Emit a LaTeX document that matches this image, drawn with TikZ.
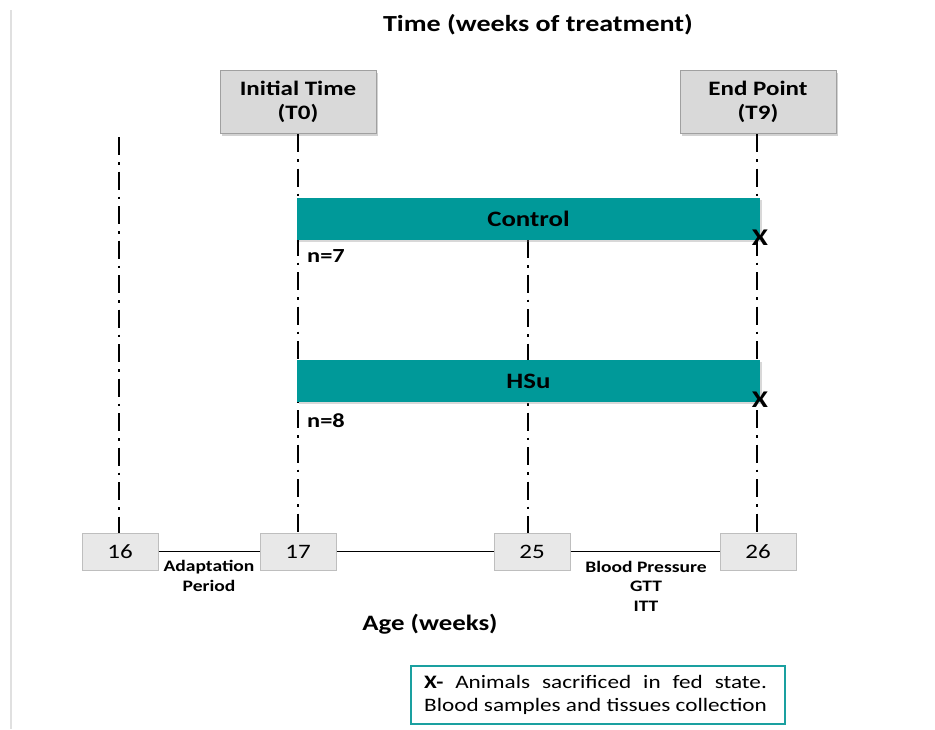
\documentclass[tikz,border=0pt]{standalone}
\usepackage{fontspec}
\setmainfont{Carlito}[FakeStretch=1.22]
\usetikzlibrary{shadows}
\definecolor{teal}{RGB}{0,153,153}
\definecolor{legteal}{RGB}{26,160,160}
\definecolor{boxfill}{RGB}{217,217,217}
\definecolor{boxline}{RGB}{160,160,160}
\definecolor{agefill}{RGB}{232,232,232}
\definecolor{ageline}{RGB}{190,190,190}
\newlength\legw
\tikzset{
  topbox/.style={draw=boxline, fill=boxfill, line width=1pt, minimum width=156pt, minimum height=63pt,
    inner sep=0pt, align=center, font=\fontsize{20.5}{24}\selectfont\bfseries,
    drop shadow={shadow xshift=2pt, shadow yshift=-3pt, opacity=0.35}},
  agebox/.style={draw=ageline, fill=agefill, line width=1pt, minimum width=76pt, minimum height=37pt,
    inner sep=0pt, font=\fontsize{20.5}{24}\selectfont},
  groupbar/.style={fill=teal, minimum width=463pt, minimum height=42pt, inner sep=0pt,
    font=\fontsize{22}{26}\selectfont\bfseries,
    drop shadow={shadow xshift=1.5pt, shadow yshift=-2pt, opacity=0.3}},
  dashdot/.style={line width=2pt, dash pattern=on 18pt off 7pt on 2.5pt off 7pt},
  smalllabel/.style={font=\fontsize{16}{19.5}\selectfont\bfseries, align=center, inner sep=0pt},
  nlabel/.style={font=\fontsize{20}{24}\selectfont\bfseries, anchor=west, inner sep=0pt},
  xmark/.style={font=\fontsize{24}{28}\selectfont\bfseries, inner sep=0pt},
}
\begin{document}
\settowidth\legw{\fontsize{19}{23}\selectfont Blood samples and tissues collection}%
\begin{tikzpicture}[x=1pt,y=-1pt]
\useasboundingbox[fill=white] (0,0) rectangle (935,729);
\fill[black!12] (10,10) rectangle (12,729);
% title
\node[font=\fontsize{23}{27}\selectfont\bfseries] (title) at (538,25) {Time (weeks of treatment)};
% top boxes
\node[topbox] (t0) at (298,101.5) {Initial Time\\(T0)};
\node[topbox] (t9) at (758,101.5) {End Point\\(T9)};
% age boxes
\node[agebox] (a16) at (120,551.5) {16};
\node[agebox] (a17) at (298,551.5) {17};
\node[agebox] (a25) at (532,551.5) {25};
\node[agebox] (a26) at (758,551.5) {26};
% horizontal age line
\draw[line width=1.3pt] (a16.east) -- (a17.west);
\draw[line width=1.3pt] (a17.east) -- (a25.west);
\draw[line width=1.3pt] (a25.east) -- (a26.west);
% coordinates for dash-dot lines
\coordinate (top16) at (119,137);
\coordinate (bot16) at (119,533);
\coordinate (top0) at (298,134);
\coordinate (bot0) at (298,533);
\coordinate (top9) at (757,134);
\coordinate (bot9) at (757,533);
\coordinate (topmid) at (528,240);
\coordinate (botmid) at (528,533);
\draw[dashdot] (top16) -- (bot16);
\draw[dashdot] (top0) -- (bot0);
\draw[dashdot] (top9) -- (bot9);
\draw[dashdot] (topmid) -- (botmid);
% group bars
\node[groupbar] (control) at (528.5,219) {Control};
\node[groupbar] (hsu) at (528.5,381) {HSu};
\node[xmark] (x1) at (760,238) {X};
\node[xmark] (x2) at (760,400) {X};
\node[nlabel] (n7) at (307,256) {n=7};
\node[nlabel] (n8) at (307,421) {n=8};
% lower labels
\node[smalllabel] (adapt) at (209,576) {Adaptation\\Period};
\node[smalllabel] (bp) at (646,586) {Blood Pressure\\GTT\\ITT};
\node[font=\fontsize{22}{26}\selectfont\bfseries] (age) at (430,624) {Age (weeks)};
% legend
\node[draw=legteal, line width=2.5pt, minimum width=374pt, minimum height=58pt, inner sep=0pt] (legend) at (598,695) {};
\node[anchor=west, inner sep=0pt] (legtext) at (424,695)
  {\parbox{\legw}{\fontsize{19}{23}\selectfont\textbf{X-} Animals sacrificed in fed state.\linebreak Blood samples and tissues collection}};
\end{tikzpicture}
\end{document}
